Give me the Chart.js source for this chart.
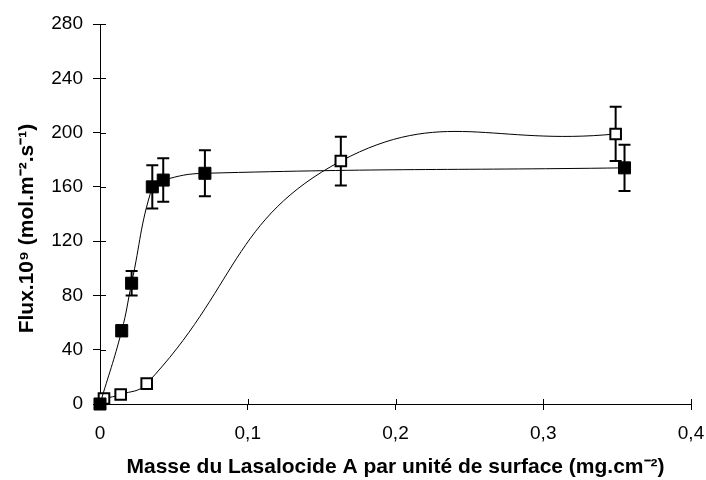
<!DOCTYPE html>
<html lang="fr">
<head>
  <meta charset="UTF-8">
  <title>Flux vs masse du Lasalocide A</title>
  <script src="https://cdn.jsdelivr.net/npm/chart.js"></script>
  <style>
    body { margin: 0; background: #fff; }
    canvas { display: block; }
  </style>
</head>
<body>
  <canvas id="fluxChart" width="706" height="480"></canvas>
  <script>
    // filled squares
    const filledX = [0, 0.0147, 0.0214, 0.0354, 0.0428, 0.071, 0.355];
    const filledY = [0, 54, 89, 160, 165, 170, 174];
    const filledErr = [0, 4, 9, 16, 16, 17, 17];

    // open squares
    const openX = [0.0027, 0.014, 0.0316, 0.163, 0.349];
    const openY = [4, 7, 15, 179, 199];
    const openErr = [0, 0, 0, 18, 20];

    const xTicks = [0, 0.1, 0.2, 0.3, 0.4];
    const yTicks = [0, 40, 80, 120, 160, 200, 240, 280];

    const toPoints = (xs, ys) => xs.map((x, i) => ({ x: x, y: ys[i] }));
    const FONT = 'Liberation Sans, Arial, sans-serif';

    // error bars, drawn under the markers
    const errorBars = {
      id: 'errorBars',
      beforeDatasetsDraw(chart) {
        const ctx = chart.ctx;
        const xs = chart.scales.x, ys = chart.scales.y;
        ctx.save();
        ctx.strokeStyle = '#000';
        ctx.lineWidth = 2;
        chart.data.datasets.forEach(ds => {
          ds.data.forEach((p, i) => {
            const e = ds.errors[i];
            if (!e) return;
            const px = xs.getPixelForValue(p.x);
            const top = ys.getPixelForValue(p.y + e);
            const bot = ys.getPixelForValue(p.y - e);
            ctx.beginPath();
            ctx.moveTo(px, top); ctx.lineTo(px, bot);
            ctx.moveTo(px - 6, top); ctx.lineTo(px + 6, top);
            ctx.moveTo(px - 6, bot); ctx.lineTo(px + 6, bot);
            ctx.stroke();
          });
        });
        ctx.restore();
      }
    };

    // inner half of the tick marks (ticks cross the axes)
    const innerTicks = {
      id: 'innerTicks',
      afterDraw(chart) {
        const ctx = chart.ctx;
        const xs = chart.scales.x, ys = chart.scales.y;
        const area = chart.chartArea;
        ctx.save();
        ctx.strokeStyle = '#000';
        ctx.lineWidth = 1;
        ctx.beginPath();
        xTicks.forEach(v => {
          const px = Math.round(xs.getPixelForValue(v)) + 0.5;
          ctx.moveTo(px, area.bottom); ctx.lineTo(px, area.bottom - 5);
        });
        yTicks.forEach(v => {
          const py = Math.round(ys.getPixelForValue(v)) + 0.5;
          ctx.moveTo(area.left, py); ctx.lineTo(area.left + 6, py);
        });
        ctx.stroke();
        ctx.restore();
      }
    };

    new Chart(document.getElementById('fluxChart'), {
      type: 'scatter',
      data: {
        datasets: [
          {
            label: 'filled',
            data: toPoints(filledX, filledY),
            errors: filledErr,
            showLine: true,
            tension: 0.45,
            borderColor: '#000',
            borderWidth: 1,
            pointStyle: 'rect',
            pointRadius: 8.5,
            pointBackgroundColor: '#000',
            pointBorderColor: '#000',
            pointBorderWidth: 1,
            clip: false
          },
          {
            label: 'open',
            data: toPoints(openX, openY),
            errors: openErr,
            showLine: true,
            tension: 0.45,
            borderColor: '#000',
            borderWidth: 1,
            pointStyle: 'rect',
            pointRadius: 7.5,
            pointBackgroundColor: '#fff',
            pointBorderColor: '#000',
            pointBorderWidth: 2,
            clip: false
          }
        ]
      },
      options: {
        responsive: false,
        animation: false,
        devicePixelRatio: 1,
        layout: { padding: { top: 24, right: 15, left: 0, bottom: 0 } },
        plugins: {
          legend: { display: false },
          tooltip: { enabled: false }
        },
        scales: {
          x: {
            type: 'linear',
            min: 0,
            max: 0.4,
            afterFit: s => { s.height = 76; s.paddingRight = 0; s.paddingLeft = 0; },
            afterBuildTicks: s => { s.ticks = xTicks.map(v => ({ value: v })); },
            border: { color: '#000', width: 1 },
            grid: { drawOnChartArea: false, color: '#000', tickLength: 6 },
            ticks: {
              color: '#000',
              padding: 12,
              font: { family: FONT, size: 19 },
              callback: v => v === 0 ? '0' : String(v).replace('.', ',')
            },
            title: {
              display: true,
              text: 'Masse du Lasalocide A par unité de surface (mg.cm⁻²)',
              color: '#000',
              padding: { top: 0, bottom: 0 },
              font: { family: FONT, size: 21, weight: 'bold' }
            }
          },
          y: {
            type: 'linear',
            min: 0,
            max: 280,
            afterFit: s => { s.width = 100; },
            afterBuildTicks: s => { s.ticks = yTicks.map(v => ({ value: v })); },
            border: { color: '#000', width: 1 },
            grid: { drawOnChartArea: false, color: '#000', tickLength: 7 },
            ticks: {
              color: '#000',
              padding: 10,
              font: { family: FONT, size: 19 }
            },
            title: {
              display: true,
              // trailing spaces push the centred title down like the original
              text: 'Flux.10⁹ (mol.m⁻².s⁻¹)     ',
              color: '#000',
              padding: { top: 15, bottom: 0 },
              font: { family: FONT, size: 21, weight: 'bold' }
            }
          }
        }
      },
      plugins: [errorBars, innerTicks]
    });
  </script>
</body>
</html>
